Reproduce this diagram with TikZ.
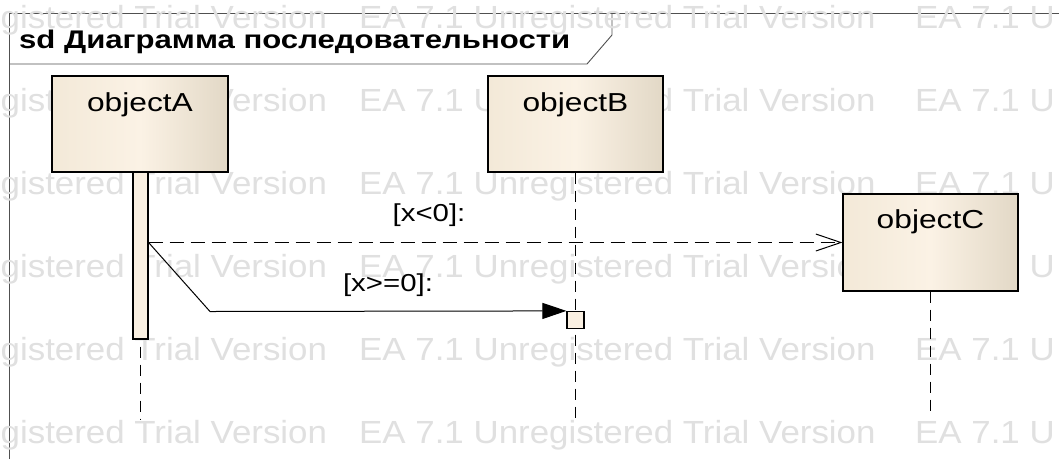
\documentclass[tikz,border=0pt]{standalone}
\usepackage{fontspec}
\setmainfont{Liberation Sans}
\newfontfamily\objfont[FakeStretch=1.22]{Liberation Sans}
\newfontfamily\lblfont[FakeStretch=1.2]{Liberation Sans}
\newfontfamily\wmfont[FakeStretch=1.09]{Liberation Sans}
\usetikzlibrary{arrows.meta,calc}
\definecolor{wmgray}{RGB}{224,224,224}
\definecolor{framegray}{RGB}{80,80,80}
\definecolor{boxL}{RGB}{243,233,216}
\definecolor{boxM}{RGB}{251,242,229}
\definecolor{boxR}{RGB}{226,216,198}
\definecolor{actfill}{RGB}{250,240,226}
\begin{document}
\begin{tikzpicture}[x=1pt,y=-1pt,
  frameline/.style={draw=framegray,line width=0.9pt},
  wm/.style={anchor=base west,inner sep=0pt,text=wmgray,font=\wmfont\fontsize{32}{38}\selectfont},
  objbox/.style={draw=black,line width=1.2pt,left color=boxL,right color=boxR,middle color=boxM,inner sep=0pt},
  objname/.style={anchor=base,inner sep=0pt,font=\objfont\fontsize{26}{31}\selectfont},
  actbox/.style={draw=black,line width=1.2pt,fill=actfill,inner sep=0pt,minimum width=15pt},
  lifeline/.style={draw=black,line width=1pt,dash pattern=on 11pt off 7pt},
  msgline/.style={draw=black,line width=1pt},
  guard/.style={anchor=base,inner sep=0pt,font=\lblfont\fontsize{24.5}{29}\selectfont},
  titletext/.style={anchor=base west,inner sep=0pt,font=\objfont\bfseries\fontsize{25.5}{30}\selectfont}
]
\fill[white] (0,0) rectangle (1059,459);
\useasboundingbox (0,0) rectangle (1059,459);
% frame and title tab
\draw[frameline] (9,459) -- (9,13.5) -- (1059,13.5);
\draw[frameline] (9,64) -- (587,64) -- (612,35) -- (612,13.5);
% watermark
\begin{scope}
\clip (0,0) rectangle (1059,459);
\foreach \y [count=\i] in {28,111,194,277,360,443}{
  \node[wm] (wmA\i) at (0.5,\y) {gistered Trial Version};
  \node[wm] (wmB\i) at (359,\y) {EA 7.1 Unregistered Trial Version};
  \node[wm] (wmC\i) at (915,\y) {EA 7.1 U};
}
\end{scope}
\node[titletext] (title) at (19,48) {sd Диаграмма последовательности};
% objects
\node[objbox,minimum width=176pt,minimum height=96pt] (A) at (140,124) {};
\node[objname] (Alabel) at ($(A.north)+(0,36)$) {objectA};
\node[objbox,minimum width=175pt,minimum height=96pt] (B) at (575.5,124) {};
\node[objname] (Blabel) at ($(B.north)+(0,36)$) {objectB};
\node[objbox,minimum width=175pt,minimum height=97pt] (C) at (930.5,242.5) {};
\node[objname] (Clabel) at ($(C.north)+(0,35)$) {objectC};
% lifelines
\coordinate (Aend) at (140.5,420);
\coordinate (Bend) at (575.5,420);
\coordinate (Cend) at (930.5,413);
\draw[lifeline] (B.south) -- (Bend);
\draw[lifeline] (C.south) -- (Cend);
% activations
\node[actbox,minimum height=167pt] (actA) at (140.5,255.5) {};
\draw[lifeline,dash phase=11pt] (actA.south) -- (Aend);
\node[actbox,minimum width=17pt,minimum height=17pt] (sq) at (575.5,320) {};
% messages
\coordinate (knee) at (210,311.5);
\draw[msgline,dash pattern=on 14pt off 7pt,-{Straight Barb[length=25pt,width=17pt]}] (actA.east |- C.west) -- (C.west);
\draw[msgline,-{Triangle[length=24pt,width=16pt]}] (actA.east |- C.west) -- (knee) -- (sq.north west);
\node[guard] (g1) at (429,221) {[x<0]:};
\node[guard] (g2) at (388,291) {[x>=0]:};
\end{tikzpicture}
\end{document}
